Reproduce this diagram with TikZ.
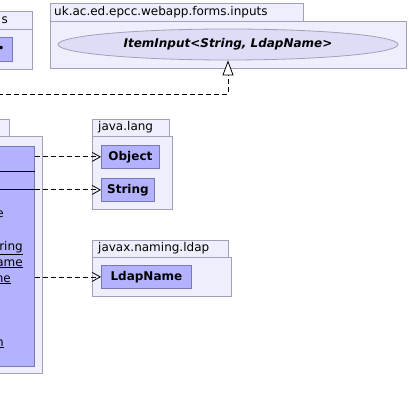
\documentclass[tikz,border=0pt]{standalone}
\usepackage{fontspec}
\setmainfont{DejaVu Sans}
\usetikzlibrary{arrows.meta,shapes.geometric}
\definecolor{pkgfill}{RGB}{238,238,252}
\definecolor{pkgline}{RGB}{160,160,184}
\definecolor{clsfill}{RGB}{178,178,255}
\definecolor{clsline}{RGB}{120,120,184}
\definecolor{ifcfill}{RGB}{221,221,248}
\tikzset{
	pkg/.style={draw=pkgline, fill=pkgfill, line width=0.8pt},
	pkglabel/.style={anchor=west, inner sep=0pt, font=\fontsize{12}{14}\selectfont},
	cls/.style={draw=clsline, fill=clsfill, line width=0.8pt, inner sep=0pt, anchor=north west, font=\fontsize{12}{14}\selectfont\bfseries},
	ifc/.style={ellipse, draw=pkgline, fill=ifcfill, line width=0.8pt, inner sep=0pt, minimum width=340pt, minimum height=31pt, font=\fontsize{12}{14}\selectfont\bfseries\itshape},
	member/.style={anchor=base east, inner sep=0pt, font=\fontsize{12}{14}\selectfont},
	dep/.style={line width=0.8pt, dash pattern=on 5pt off 3pt, -{Straight Barb[length=8pt,width=9pt]}},
	real/.style={line width=0.8pt, dash pattern=on 5pt off 3pt, -{Triangle[length=15pt,width=11pt,fill=white]}}
}
\begin{document}
\begin{tikzpicture}[x=1pt,y=-1pt]
	\clip (0,0) rectangle (408,411);
	% packages
	\draw[pkg] (-60,11) rectangle (32,29);
	\draw[pkg] (-60,29) rectangle (32,69);
	\node[pkglabel, anchor=east] (inputsname) at (8,20) {s};
	\node[cls, minimum width=72pt, minimum height=24pt] (prev) at (-60,37) {};
	\node[member, anchor=east] (prevname) at (5,49) {•};
	\draw[pkg] (50,3) rectangle (303,21);
	\draw[pkg] (50,21) rectangle (406,68);
	\node[pkglabel] (ukname) at (54,12) {uk.ac.ed.epcc.webapp.forms.inputs};
	\node[ifc] (item) at (228,44.5) {ItemInput<String, LdapName>};
	\draw[pkg] (-60,119) rectangle (9,136);
	\draw[pkg] (-60,136) rectangle (42,373);
	\node[cls, minimum width=94pt, minimum height=220pt] (form) at (-60,146) {};
	\draw (form.west |- 0,171) -- (form.east |- 0,171);
	\draw (form.west |- 0,189) -- (form.east |- 0,189);
	\node[member] (m1) at (4,218) {e};
	\node[member] (m2) at (23,250) {\underline{ring}};
	\node[member] (m3) at (23,266) {\underline{ame}};
	\node[member] (m4) at (11,282) {\underline{ne}};
	\node[member] (m5) at (4,346) {\underline{n}};
	\draw[pkg] (92,119) rectangle (169,136);
	\draw[pkg] (92,136) rectangle (172,209);
	\node[pkglabel] (langname) at (98,127.5) {java.lang};
	\node[cls, minimum width=58pt, minimum height=23pt] (obj) at (101,145) {Object};
	\node[cls, minimum width=53pt, minimum height=23pt] (str) at (101,178) {String};
	\draw[pkg] (92,240) rectangle (228,257);
	\draw[pkg] (92,257) rectangle (231,296);
	\node[pkglabel] (ldapname) at (98,248.5) {javax.naming.ldap};
	\node[cls, minimum width=90pt, minimum height=23pt] (ldap) at (101,265) {LdapName};
	% dependencies
	\draw[dep] (form.east |- obj.west) -- (obj.west);
	\draw[dep] (form.east |- str.west) -- (str.west);
	\draw[dep] (form.east |- ldap.west) -- (ldap.west);
	\coordinate (src) at (-10,94);
	\draw[real] (src) -| (item.south);
\end{tikzpicture}
\end{document}
